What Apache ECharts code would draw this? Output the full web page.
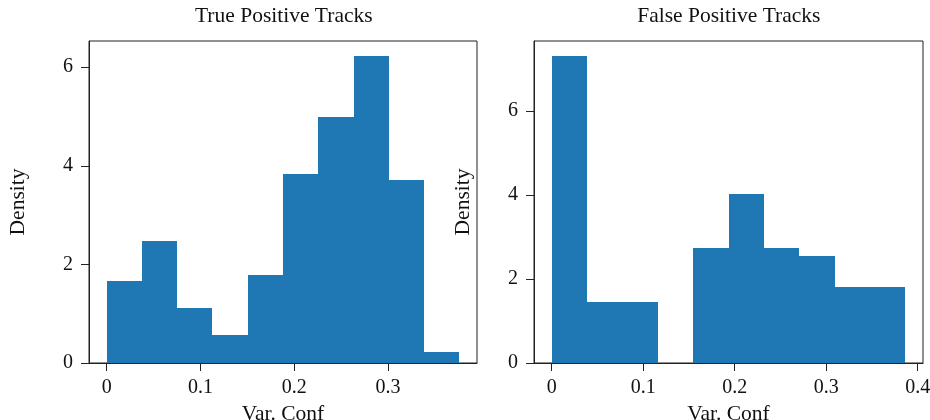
<!DOCTYPE html>
<html>
<head>
<meta charset="utf-8">
<script src="https://cdn.jsdelivr.net/npm/echarts@6/dist/echarts.min.js"></script>
<style>html,body{margin:0;padding:0;background:#fff}#c{width:930px;height:420px}</style>
</head>
<body>
<div id="c"></div>
<script>
// ---- data ----
var tpEdges = [0, 0.0376, 0.0752, 0.1128, 0.1504, 0.1881, 0.2257, 0.2633, 0.3009, 0.3385, 0.3761];
var tpDensity = [1.67, 2.48, 1.12, 0.57, 1.79, 3.83, 4.98, 6.22, 3.71, 0.23];
var fpEdges = [0, 0.0387, 0.0773, 0.1160, 0.1546, 0.1933, 0.2319, 0.2706, 0.3092, 0.3479, 0.3865];
var fpDensity = [7.30, 1.46, 1.46, 0, 2.74, 4.02, 2.74, 2.55, 1.81, 1.81];
var tpXTicks = [0, 0.1, 0.2, 0.3];
var fpXTicks = [0, 0.1, 0.2, 0.3, 0.4];
var tpYTicks = [0, 2, 4, 6];
var fpYTicks = [0, 2, 4, 6];
var titles = ['True Positive Tracks', 'False Positive Tracks'];
var xName = 'Var. Conf';
var yName = 'Density';

function toBins(edges, dens) {
  var out = [];
  for (var i = 0; i < dens.length; i++) out.push([edges[i], edges[i + 1], dens[i]]);
  return out;
}

var FONT = 'Liberation Serif';
var AX = '#222';
var TXT = '#111';
var FS_TICK = 20;
var FS_TEXT = 21.5;

function xAxis(idx, min, max, ticks) {
  return {
    type: 'value', gridIndex: idx, min: min, max: max,
    name: xName, nameLocation: 'middle', nameGap: 35,
    nameTextStyle: { fontFamily: FONT, fontSize: FS_TEXT, color: TXT },
    axisLine: { show: true, onZero: false, lineStyle: { color: AX, width: 1 } },
    axisTick: { show: true, length: 8, customValues: ticks, lineStyle: { color: AX, width: 1 } },
    axisLabel: { customValues: ticks, margin: 15, fontFamily: FONT, fontSize: FS_TICK, color: TXT,
      formatter: function (v) { return String(v); } },
    splitLine: { show: false }
  };
}
function yAxis(idx, max, ticks) {
  return {
    type: 'value', gridIndex: idx, min: 0, max: max,
    name: yName, nameLocation: 'middle', nameGap: 60, nameRotate: 90,
    nameTextStyle: { fontFamily: FONT, fontSize: FS_TEXT, color: TXT },
    axisLine: { show: true, onZero: false, lineStyle: { color: AX, width: 1 } },
    axisTick: { show: true, length: 8, customValues: ticks, lineStyle: { color: AX, width: 1 } },
    axisLabel: { customValues: ticks, margin: 16, fontFamily: FONT, fontSize: FS_TICK, color: TXT },
    splitLine: { show: false }
  };
}
function histSeries(idx, data) {
  return {
    type: 'custom', xAxisIndex: idx, yAxisIndex: idx,
    data: data,
    encode: { x: [0, 1], y: 2 },
    renderItem: function (params, api) {
      var p0 = api.coord([api.value(0), api.value(2)]);
      var p1 = api.coord([api.value(1), 0]);
      var x0 = Math.round(p0[0]), x1 = Math.round(p1[0]);
      var y0 = Math.round(p0[1]), y1 = Math.round(p1[1]);
      return {
        type: 'rect',
        shape: { x: x0, y: y0, width: x1 - x0, height: y1 - y0 },
        style: { fill: '#1f77b4' }
      };
    },
    z: 1
  };
}

var chart = echarts.init(document.getElementById('c'), null, { renderer: 'canvas' });
chart.setOption({
  animation: false,
  backgroundColor: '#fff',
  title: [
    { text: titles[0], left: 283.8, top: 5, padding: 0, textAlign: 'center',
      textStyle: { fontFamily: FONT, fontSize: FS_TEXT, fontWeight: 'normal', color: TXT } },
    { text: titles[1], left: 728.8, top: 5, padding: 0, textAlign: 'center',
      textStyle: { fontFamily: FONT, fontSize: FS_TEXT, fontWeight: 'normal', color: TXT } }
  ],
  grid: [
    { left: 89, top: 41, width: 388, height: 322, containLabel: false, outerBoundsMode: 'none',
      show: true, borderColor: AX, borderWidth: 1, backgroundColor: 'transparent' },
    { left: 534, top: 41, width: 389, height: 322, containLabel: false, outerBoundsMode: 'none',
      show: true, borderColor: AX, borderWidth: 1, backgroundColor: 'transparent' }
  ],
  xAxis: [xAxis(0, -0.0188, 0.3949, tpXTicks), xAxis(1, -0.0193, 0.4058, fpXTicks)],
  yAxis: [yAxis(0, 6.53, tpYTicks), yAxis(1, 7.665, fpYTicks)],
  series: [histSeries(0, toBins(tpEdges, tpDensity)), histSeries(1, toBins(fpEdges, fpDensity))]
});
</script>
</body>
</html>
